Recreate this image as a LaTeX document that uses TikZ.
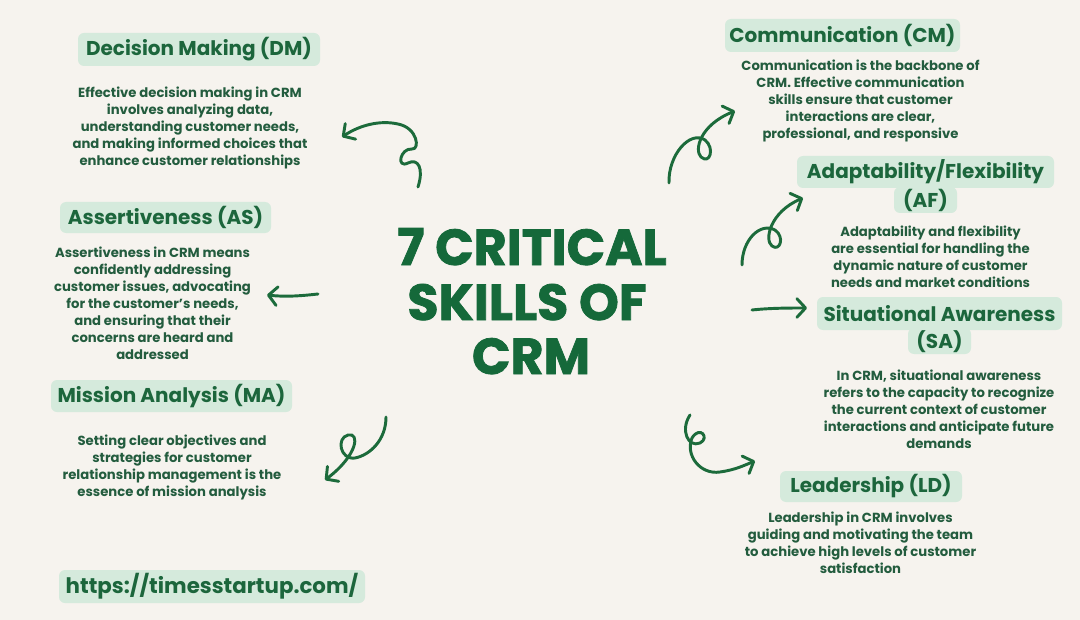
\documentclass[tikz,border=0pt]{standalone}
\usepackage{fontspec}
\setmainfont{Poppins}
\newfontfamily\titlefont[BoldFeatures={FakeBold=1.5}]{Poppins}
\usetikzlibrary{arrows.meta}
\definecolor{bg}{HTML}{F6F3EE}
\definecolor{boxc}{HTML}{D5EADC}
\definecolor{headc}{HTML}{1C663C}
\definecolor{bodyc}{HTML}{235C3E}
\definecolor{titlec}{HTML}{15693A}
\definecolor{arrc}{HTML}{1C6B3B}
\begin{document}
\begin{tikzpicture}[x=0.75pt,y=-0.75pt,
  hd/.style={fill=boxc, rounded corners=4.5pt, text=headc, font=\bfseries\fontsize{15}{17}\selectfont, inner sep=0pt, minimum height=24.75pt},
  bd/.style={text=bodyc, align=center, font=\bfseries\fontsize{9.9}{12.75}\selectfont, inner sep=0pt},
  tt/.style={text=titlec, font=\titlefont\bfseries\fontsize{38}{40}\selectfont, inner sep=0pt, anchor=base},
  cur/.style={draw=arrc, line width=2.2pt, line cap=round, line join=round, -{Straight Barb[length=6.5pt,width=14pt,round]}}
]
\fill[bg] (0,0) rectangle (1080,620);
\useasboundingbox (0,0) rectangle (1080,620);

% title
\node[tt] (t1) at (532,265) {7 CRITICAL};
\node[tt] (t2) at (527,320) {SKILLS OF};
\node[tt] (t3) at (531,374) {CRM};

% left column
\node[hd, minimum width=181.5pt] (dm) at (199,49.5) {Decision Making (DM)};
\node[bd] (dmb) at (190,128) {Effective decision making in CRM\\involves analyzing data,\\understanding customer needs,\\and making informed choices that\\enhance customer relationships};

\node[hd, minimum width=158.25pt, minimum height=23.25pt] (as) at (165.5,217.5) {Assertiveness (AS)};
\node[bd] (asb) at (152.5,303) {Assertiveness in CRM means\\confidently addressing\\customer issues, advocating\\for the customer\symbol{39}s needs,\\and ensuring that their\\concerns are heard and\\addressed};

\node[hd, minimum width=180.75pt, minimum height=24pt] (ma) at (171.5,396) {Mission Analysis (MA)};
\node[bd] (mab) at (172,467) {Setting clear objectives and\\strategies for customer\\relationship management is the\\essence of mission analysis};

\node[hd, minimum width=229.5pt, font=\bfseries\fontsize{16}{18}\selectfont] (url) at (212,586.5) {https://timesstartup.com/};

% right column
\node[hd, minimum width=176.25pt] (cm) at (842.5,35.5) {Communication (CM)};
\node[bd] (cmb) at (860.5,100.5) {Communication is the backbone of\\CRM. Effective communication\\skills ensure that customer\\interactions are clear,\\professional, and responsive};

\node[hd, minimum width=47.25pt, minimum height=19.5pt] (af2) at (925.5,200) {(AF)};
\node[hd, minimum width=192.75pt, minimum height=24pt] (af) at (925.5,172) {Adaptability/Flexibility};
\node[bd] (afb) at (930.5,257) {Adaptability and flexibility\\are essential for handling the\\dynamic nature of customer\\needs and market conditions};

\node[hd, minimum width=47.25pt, minimum height=19.5pt] (sa2) at (939.5,341) {(SA)};
\node[hd, minimum width=183.75pt] (sa) at (939.5,313.5) {Situational Awareness};
\node[bd] (sab) at (939,409.5) {In CRM, situational awareness\\refers to the capacity to recognize\\the current context of customer\\interactions and anticipate future\\demands};

\node[hd, minimum width=136.5pt, minimum height=23.25pt] (ld) at (871,486.5) {Leadership (LD)};
\node[bd] (ldb) at (860.5,542.5) {Leadership in CRM involves\\guiding and motivating the team\\to achieve high levels of customer\\satisfaction};

% arrow end points
\coordinate (dmS) at (418,187); \coordinate (dmE) at (342,137);
\coordinate (asS) at (318,294); \coordinate (asE) at (267,295);
\coordinate (maS) at (386,417); \coordinate (maE) at (325,480);
\coordinate (cmS) at (669,183); \coordinate (cmE) at (735,111);
\coordinate (afS) at (742,265); \coordinate (afE) at (803,198);
\coordinate (saS) at (752,310); \coordinate (saE) at (807,308);
\coordinate (ldS) at (690,415); \coordinate (ldE) at (755,461);

% curly arrows
\draw[cur] (dmS) .. controls (424,168) and (418,158) .. (408,163) .. controls (396,169) and (400,148) .. (412,149) .. controls (420,150) and (418,128) .. (398,124) .. controls (380,120) and (360,125) .. (dmE);
\draw[cur] (asS) .. controls (300,296) and (285,297) .. (asE);
\draw[cur] (maS) .. controls (386,440) and (370,455) .. (355,458) .. controls (340,460) and (336,438) .. (348,435) .. controls (360,432) and (358,455) .. (maE);
\draw[cur] (cmS) .. controls (668,155) and (690,130) .. (705,140) .. controls (715,148) and (710,165) .. (701,157) .. controls (694,150) and (700,125) .. (cmE);
\draw[cur] (afS) .. controls (742,240) and (760,222) .. (775,230) .. controls (785,237) and (780,252) .. (772,246) .. controls (764,240) and (770,212) .. (afE);
\draw[cur] (saS) .. controls (770,308) and (790,308) .. (saE);
\draw[cur] (ldS) .. controls (680,430) and (688,448) .. (700,443) .. controls (710,438) and (700,425) .. (692,438) .. controls (685,455) and (700,475) .. (720,472) .. controls (735,470) and (745,465) .. (ldE);
\end{tikzpicture}
\end{document}
